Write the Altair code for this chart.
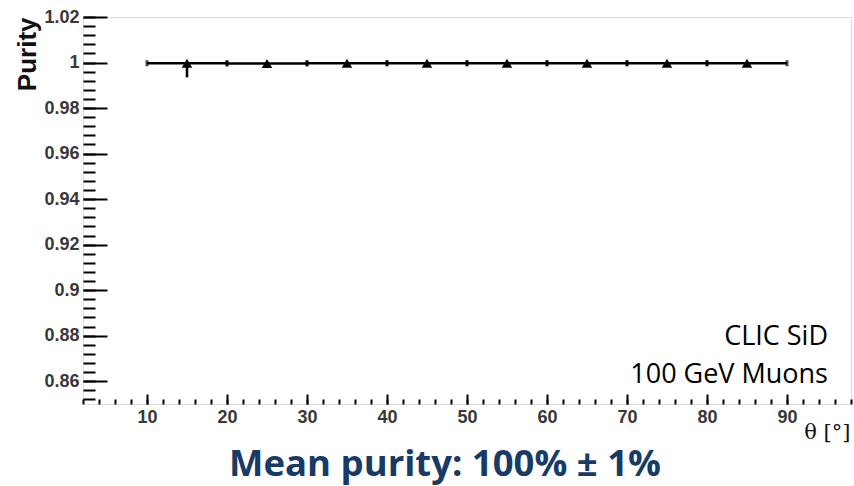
import altair as alt
import pandas as pd

# Purity per theta bin (bin centres, half-width 5 degrees)
theta = [15, 25, 35, 45, 55, 65, 75, 85]
purity = [0.9997, 0.9996, 0.9997, 0.9997, 0.9997, 0.9997, 0.9997, 0.9997]
err_low = [0.0062, 0.0015, 0.0006, 0.0004, 0.0004, 0.0004, 0.0004, 0.0004]
err_high = [0.0003, 0.0004, 0.0003, 0.0003, 0.0003, 0.0003, 0.0003, 0.0003]
half_width = 5

x_major = [10, 20, 30, 40, 50, 60, 70, 80, 90]
y_major = [0.86, 0.88, 0.90, 0.92, 0.94, 0.96, 0.98, 1.00, 1.02]
x_minor = list(range(2, 99, 2))
y_minor = [round(0.852 + 0.004 * i, 3) for i in range(43)]

df = pd.DataFrame({
    "theta": theta,
    "purity": purity,
    "lo": [p - e for p, e in zip(purity, err_low)],
    "hi": [min(p + e, 1.0) for p, e in zip(purity, err_high)],
    "xlo": [t - half_width for t in theta],
    "xhi": [t + half_width for t in theta],
})

W, H = 768, 387
INK = "#000000"
LABEL = "#383838"

xs = alt.Scale(domain=[2, 98], nice=False, zero=False)
ys = alt.Scale(domain=[0.85, 1.02], nice=False, zero=False)

base = alt.Chart(df)

# horizontal bin-width bars, carrying the major-tick axes
hbars = base.mark_rule(color=INK, strokeWidth=2.6).encode(
    x=alt.X("xlo:Q", scale=xs, axis=alt.Axis(
        orient="bottom", values=x_major, offset=-10, tickSize=10, tickWidth=2,
        tickColor=INK, domain=False, grid=False, labelPadding=4,
        labelFont="Liberation Sans", labelFontWeight="bold", labelFontSize=18,
        labelColor=LABEL, title="θ [°]", titleFont="DejaVu Serif",
        titleFontSize=21, titleFontWeight="normal", titleColor="#111111",
        titleX=W - 1, titleY=44, titleAlign="right", titleBaseline="alphabetic")),
    x2="xhi:Q",
    y=alt.Y("purity:Q", scale=ys, axis=alt.Axis(
        orient="left", values=y_major, format=".2~f", offset=-24, tickSize=24,
        tickWidth=2, tickColor=INK, domain=False, grid=False, labelPadding=4,
        labelFont="Liberation Sans", labelFontWeight="bold", labelFontSize=18,
        labelColor=LABEL, title="Purity", titleFont="Liberation Sans",
        titleFontSize=26, titleFontWeight="bold", titleColor="#111111",
        titleAngle=-90, titleX=-80, titleY=0, titleAlign="right",
        titleBaseline="middle")),
)

# end caps of the bin-width bars
caps = base.transform_fold(["xlo", "xhi"], as_=["edge", "xe"]).mark_tick(
    color=INK, orient="vertical", size=6, thickness=3
).encode(
    x=alt.X("xe:Q", scale=xs, axis=None),
    y=alt.Y("purity:Q", scale=ys, axis=None),
)

# vertical error bars
vbars = base.mark_rule(color=INK, strokeWidth=2.6).encode(
    x=alt.X("theta:Q", scale=xs, axis=None),
    y=alt.Y("lo:Q", scale=ys, axis=None),
    y2="hi:Q",
)

markers = base.mark_point(shape="triangle-up", filled=True, color=INK,
                          size=110, opacity=1).encode(
    x=alt.X("theta:Q", scale=xs, axis=None),
    y=alt.Y("purity:Q", scale=ys, axis=None),
)

# minor tick marks pointing into the frame
minor = base.mark_point(opacity=0).encode(
    x=alt.X("theta:Q", scale=xs, axis=alt.Axis(
        orient="bottom", values=x_minor, offset=-5, tickSize=5, tickWidth=2,
        tickColor=INK, domain=False, grid=False, labels=False, title=None)),
    y=alt.Y("purity:Q", scale=ys, axis=alt.Axis(
        orient="left", values=y_minor, offset=-12, tickSize=12, tickWidth=2,
        tickColor=INK, domain=False, grid=False, labels=False, title=None)),
)

note_style = dict(align="right", baseline="alphabetic", font="Open Sans",
                  fontSize=27, color=INK)
note1 = alt.Chart(pd.DataFrame({"txt": ["CLIC SiD"]})).mark_text(
    **note_style, x=W - 23, y=328).encode(text="txt:N")
note2 = alt.Chart(pd.DataFrame({"txt": ["100 GeV Muons"]})).mark_text(
    **note_style, x=W - 23, y=366).encode(text="txt:N")

summary = alt.Chart(pd.DataFrame({"txt": ["Mean purity: 100% ± 1%"]})).mark_text(
    align="center", baseline="alphabetic", font="Open Sans", fontWeight="bold",
    fontSize=36.5, color="#173B66", x=362, y=459
).encode(text="txt:N")

chart = alt.layer(hbars, caps, vbars, markers, minor, note1, note2,
                  summary).resolve_axis(
    x="independent", y="independent"
).properties(
    width=W, height=H,
    autosize=alt.AutoSizeParams(type="none"),
    padding={"left": 83, "top": 17, "right": 3, "bottom": 82},
).configure_view(stroke=INK, strokeWidth=2.5).configure(background="white")

chart.save("out.html", embed_options={"renderer": "svg", "actions": False})
